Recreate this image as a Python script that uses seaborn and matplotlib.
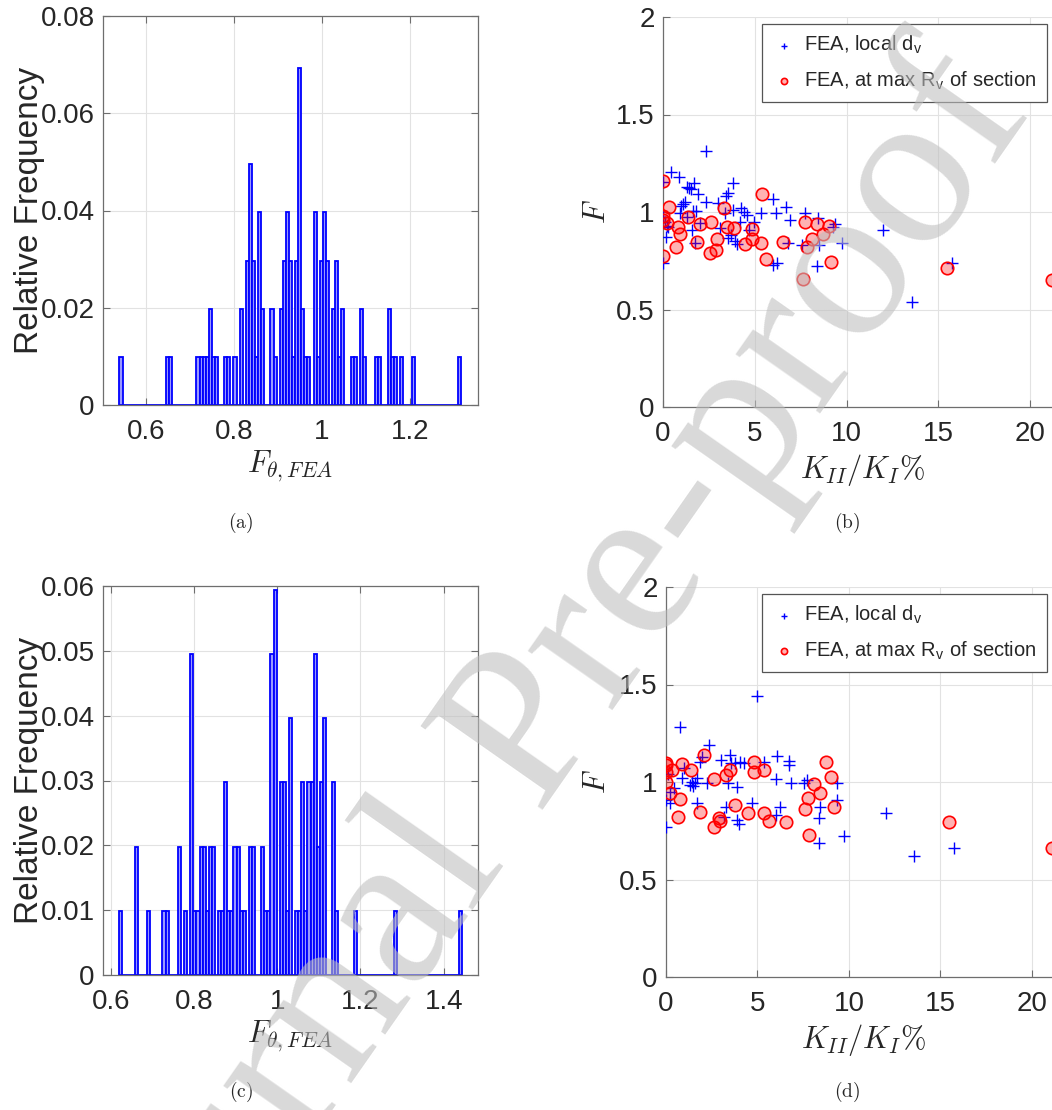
import numpy as np
import pandas as pd
import matplotlib
matplotlib.use('Agg')
import matplotlib.pyplot as plt
import seaborn as sns
from matplotlib.ticker import FormatStrFormatter

# ---- (a) histogram of F_theta,FEA : bin centre values and counts (101 samples) ----
fa_vals = [0.543, 0.648, 0.655, 0.718, 0.725, 0.732, 0.739, 0.746, 0.753, 0.760,
           0.781, 0.788, 0.802, 0.816, 0.830, 0.837, 0.844, 0.851, 0.858, 0.865,
           0.886, 0.893, 0.907, 0.914, 0.921, 0.928, 0.935, 0.942, 0.949, 0.956,
           0.963, 0.970, 0.985, 0.992, 0.999, 1.006, 1.013, 1.027, 1.034, 1.041,
           1.048, 1.069, 1.076, 1.090, 1.097, 1.125, 1.132, 1.153, 1.160, 1.167,
           1.181, 1.209, 1.314]
fa_counts = [1, 1, 1, 1, 1, 1, 1, 2, 1, 1,
             1, 1, 1, 2, 3, 5, 3, 1, 4, 2,
             2, 1, 2, 3, 4, 3, 1, 3, 7, 2,
             1, 1, 4, 1, 3, 4, 3, 2, 3, 1,
             2, 1, 1, 2, 1, 1, 1, 2, 1, 1,
             1, 1, 1]
fa_range = (0.5394, 1.3174)

# ---- (c) histogram ----
fc_vals = [0.624, 0.662, 0.691, 0.728, 0.736, 0.765, 0.780, 0.795, 0.802, 0.810,
           0.817, 0.825, 0.832, 0.839, 0.847, 0.862, 0.869, 0.876, 0.884, 0.891,
           0.899, 0.906, 0.913, 0.921, 0.936, 0.943, 0.965, 0.973, 0.980, 0.988,
           0.995, 1.010, 1.017, 1.025, 1.032, 1.047, 1.054, 1.062, 1.069, 1.076,
           1.084, 1.091, 1.099, 1.106, 1.113, 1.136, 1.143, 1.188, 1.284, 1.439]
fc_counts = [1, 2, 1, 1, 1, 2, 1, 5, 1, 1,
             2, 2, 1, 2, 2, 1, 1, 3, 1, 1,
             2, 2, 1, 1, 2, 2, 2, 1, 1, 5,
             6, 3, 3, 1, 4, 1, 1, 3, 1, 3,
             3, 5, 2, 3, 4, 3, 1, 1, 1, 1]
fc_range = (0.6207, 1.4431)
n_bins = 111

# ---- (b) scatter ----
b_local_x = [0.00, 0.45, 0.85, 0.15, 0.00, 0.00, 0.27, 0.91, 1.09, 1.20, 1.42, 1.67, 1.31,
             1.64, 1.82, 1.60, 1.76, 1.91, 2.00, 2.36, 2.36, 2.98, 3.09, 3.45, 3.55, 3.82,
             3.36, 3.55, 3.82, 3.91, 4.04, 4.18, 4.27, 4.40, 4.58, 4.67, 4.95, 5.36, 6.00,
             6.13, 6.69, 6.00, 6.18, 6.91, 6.78, 7.73, 7.55, 8.45, 8.36, 8.49, 9.36, 9.27,
             9.76, 12.00, 13.58, 15.73, 1.50, 1.30, 1.00, 0.20, 0.10, 3.70]
b_local_y = [1.155, 1.206, 1.181, 0.870, 0.741, 0.976, 0.925, 0.993, 1.041, 1.053, 1.121,
             1.147, 0.976, 1.007, 1.007, 0.908, 0.840, 1.092, 0.945, 1.053, 1.314, 1.044,
             0.916, 1.082, 1.099, 1.150, 0.993, 0.865, 1.010, 0.853, 0.836, 0.951, 1.019,
             1.002, 0.985, 0.908, 0.951, 0.993, 1.065, 0.993, 1.027, 0.729, 0.737, 0.959,
             0.840, 0.997, 0.831, 0.968, 0.724, 0.831, 0.939, 0.925, 0.840, 0.908, 0.536,
             0.737, 1.120, 1.130, 1.030, 0.930, 0.950, 0.880]
b_max_x = [0.00, 0.33, 0.00, 0.00, 0.22, 0.82, 0.91, 0.69, 0.00, 1.36, 2.04, 1.85, 2.64,
           2.95, 2.58, 2.87, 3.31, 3.49, 3.85, 4.87, 4.82, 4.45, 5.36, 5.38, 5.60, 6.55,
           7.60, 7.73, 7.82, 8.09, 8.40, 8.73, 9.05, 9.16, 15.45, 21.18]
b_max_y = [1.160, 1.027, 0.980, 0.959, 0.942, 0.922, 0.886, 0.819, 0.775, 0.976, 0.937,
           0.845, 0.947, 0.860, 0.788, 0.805, 1.019, 0.922, 0.916, 0.911, 0.860, 0.834,
           0.840, 1.090, 0.758, 0.848, 0.657, 0.951, 0.819, 0.860, 0.939, 0.887, 0.928,
           0.746, 0.715, 0.652]

# ---- (d) scatter ----
d_local_x = [4.97, 0.78, 2.33, 0.00, 0.00, 0.24, 0.42, 0.87, 0.97, 1.33, 1.42, 1.60, 1.69,
             1.87, 1.97, 1.69, 2.24, 3.03, 3.48, 3.57, 3.39, 3.88, 3.79, 4.05, 4.28, 3.28,
             3.19, 3.88, 3.97, 4.70, 5.33, 6.06, 6.01, 6.21, 6.01, 6.74, 6.70, 6.85, 7.56,
             7.71, 8.43, 8.34, 8.39, 9.34, 9.34, 9.74, 12.02, 13.57, 15.72, 0.20, 0.10, 1.50]
d_local_y = [1.440, 1.280, 1.189, 0.768, 0.908, 0.891, 0.968, 1.019, 1.070, 0.985, 1.002,
             0.993, 1.019, 1.104, 1.130, 0.891, 0.993, 1.113, 1.138, 1.096, 0.993, 0.976,
             1.096, 1.104, 1.096, 0.874, 0.823, 0.805, 0.785, 0.891, 1.104, 1.133, 1.014,
             0.874, 0.831, 1.108, 1.087, 0.993, 0.993, 1.010, 0.874, 0.814, 0.686, 0.993,
             0.908, 0.724, 0.840, 0.621, 0.659, 0.950, 1.040, 0.980]
d_max_x = [0.00, 0.00, 0.00, 0.00, 0.24, 0.33, 0.87, 0.78, 0.66, 1.38, 1.87, 2.05, 2.64,
           2.60, 2.87, 2.96, 3.30, 3.52, 3.79, 4.48, 4.79, 4.83, 5.33, 5.37, 5.64, 6.58,
           7.61, 7.74, 7.83, 8.07, 8.43, 8.74, 9.01, 9.20, 15.45, 21.10]
d_max_y = [1.096, 1.087, 1.050, 0.998, 0.945, 1.061, 1.092, 0.911, 0.823, 1.061, 0.848,
           1.138, 1.014, 0.768, 0.814, 0.802, 1.036, 1.061, 0.882, 0.840, 1.104, 1.053,
           0.843, 1.061, 0.802, 0.797, 0.860, 0.918, 0.729, 0.990, 0.945, 1.101, 1.024,
           0.870, 0.795, 0.660]

W, H = 1052, 1110
sns.set_style('white')
plt.rcParams['font.family'] = ['Liberation Sans', 'DejaVu Sans']
plt.rcParams['mathtext.fontset'] = 'cm'
TXT = '#262626'


def style_axes(ax, box):
    for side in ['left', 'bottom', 'top', 'right']:
        ax.spines[side].set_visible(box or side in ('left', 'bottom'))
        ax.spines[side].set_color('#6e6e6e')
        ax.spines[side].set_linewidth(0.9)
    ax.grid(True, color='#e2e2e2', linewidth=0.8)
    ax.set_axisbelow(True)
    ax.tick_params(direction='in', length=5, width=0.8, colors='#6e6e6e',
                   labelcolor=TXT, labelsize=20, top=box, right=box,
                   bottom=True, left=True)
    ax.tick_params(axis='x', pad=10)
    ax.tick_params(axis='y', pad=6)
    ax.yaxis.set_major_formatter(FormatStrFormatter('%g'))
    ax.xaxis.set_major_formatter(FormatStrFormatter('%g'))


def hist_panel(ax, vals, counts, rng, xlim, ymax, ystep, xticks):
    df = pd.DataFrame({'F': vals, 'n': counts})
    sns.histplot(data=df, x='F', weights='n', bins=n_bins, binrange=rng,
                 stat='probability', ax=ax, color=(0.6, 0.6, 1.0),
                 edgecolor=(0, 0, 1), linewidth=1.3, alpha=1)
    ax.set_xlim(*xlim)
    ax.set_ylim(0, ymax)
    ax.set_yticks(np.arange(0, ymax + 1e-9, ystep))
    ax.set_xticks(xticks)
    style_axes(ax, True)
    ax.set_ylabel('Relative Frequency', fontsize=24, color=TXT, va='center')
    ax.yaxis.set_label_coords(-0.195, 0.5)
    ax.set_xlabel(r'$F_{\theta,FEA}$', fontsize=22, va='center')
    ax.xaxis.set_label_coords(0.499, -0.158)


def scatter_panel(ax, lx, ly, mx, my, xmax, ylab_x, leg_top):
    sns.scatterplot(x=lx, y=ly, marker='+', color='blue', s=65, linewidth=1.0,
                    ax=ax, label=r'FEA, local d$_\mathregular{v}$', zorder=3)
    sns.scatterplot(x=mx, y=my, marker='o', color='red', facecolor=(1, 0, 0, 0.3),
                    edgecolor='red', s=80, linewidth=1.2, ax=ax,
                    label=r'FEA, at max R$_\mathregular{v}$ of section', zorder=4)
    ax.set_xlim(0, xmax)
    ax.set_ylim(0, 2)
    ax.set_xticks([0, 5, 10, 15, 20])
    ax.set_yticks([0, 0.5, 1, 1.5, 2])
    style_axes(ax, False)
    ax.set_ylabel('$F$', fontsize=22, va='center')
    ax.yaxis.set_label_coords(ylab_x, 0.5)
    ax.set_xlabel(r'$K_{II}/K_I\%$', fontsize=22, va='center')
    ax.xaxis.set_label_coords(0.512, -0.162)
    leg = ax.legend(loc='upper right', bbox_to_anchor=(1047 / W, 1 - leg_top / H),
                    bbox_transform=fig.transFigure, fontsize=14.5, frameon=True,
                    fancybox=False, edgecolor='#555555', framealpha=1,
                    markerscale=0.5, handletextpad=0.4, handlelength=1.2,
                    borderpad=0.5, labelspacing=0.65, borderaxespad=0)
    leg.get_frame().set_linewidth(0.9)


fig = plt.figure(figsize=(W / 100, H / 100), dpi=100)
ax_a = fig.add_axes([103 / W, 1 - 405 / H, 375 / W, 389 / H])
ax_b = fig.add_axes([663 / W, 1 - 407 / H, 389 / W, 390 / H])
ax_c = fig.add_axes([103 / W, 1 - 975 / H, 375 / W, 389 / H])
ax_d = fig.add_axes([666 / W, 1 - 977 / H, 386 / W, 390 / H])

hist_panel(ax_a, fa_vals, fa_counts, fa_range, (0.502, 1.355), 0.08, 0.02,
           [0.6, 0.8, 1.0, 1.2])
hist_panel(ax_c, fc_vals, fc_counts, fc_range, (0.5815, 1.4823), 0.06, 0.01,
           [0.6, 0.8, 1.0, 1.2, 1.4])
scatter_panel(ax_b, b_local_x, b_local_y, b_max_x, b_max_y, 21.18, -0.170, 24)
scatter_panel(ax_d, d_local_x, d_local_y, d_max_x, d_max_y, 21.10, -0.179, 594)

for x, y, s in [(241, 523, '(a)'), (847, 523, '(b)'), (241, 1092, '(c)'), (847, 1092, '(d)')]:
    fig.text(x / W, 1 - y / H, r'$\mathrm{' + s + '}$', fontsize=14, ha='center', va='center')

# watermark
fig.text(535 / W, 1 - 725 / H, 'Journal Pre-proof', rotation=55, rotation_mode='anchor',
         fontsize=162, family='Liberation Serif', color=(0.745, 0.745, 0.745),
         alpha=0.58, ha='center', va='center', zorder=100)

fig.savefig('out.png', dpi=100)
